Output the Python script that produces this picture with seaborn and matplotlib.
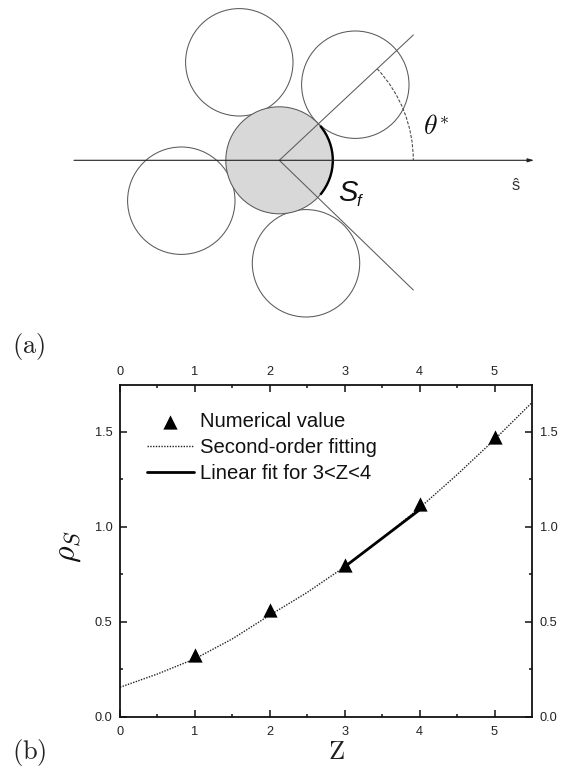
import numpy as np
import pandas as pd
import matplotlib
matplotlib.use("Agg")
import matplotlib.pyplot as plt
from matplotlib.patches import Circle, Arc
import seaborn as sns

# Panel (b) data
z_points = [1, 2, 3, 4, 5]
rho_points = [0.325, 0.56, 0.80, 1.12, 1.475]
z_curve = [0, 0.5, 1, 1.5, 2, 2.5, 3, 3.5, 4, 4.5, 5, 5.5]
rho_curve = [0.155, 0.225, 0.305, 0.41, 0.535, 0.655, 0.79, 0.94, 1.10, 1.275, 1.46, 1.655]
z_linear = [3, 4]
rho_linear = [0.79, 1.09]
series_labels = ["Numerical value", "Second-order fitting", "Linear fit for 3<Z<4"]
x_ticks = [0, 1, 2, 3, 4, 5]
y_ticks = [0.0, 0.5, 1.0, 1.5]

# Panel (a) schematic, in image pixels
center_circle = (279.3, 160.3, 53.5)
outer_x = [239.3, 355.3, 181.3, 306.0]
outer_y = [62.3, 84.7, 200.7, 263.3]
outer_r = [53.7, 53.7, 53.7, 53.7]
ray_ends_x = [413.3, 413.3]
ray_ends_y = [35.0, 290.0]
axis_x = [74, 534]

W, H = 563, 775
sns.set_theme(style="ticks")
plt.rcParams["font.family"] = ["Liberation Sans", "DejaVu Sans"]
plt.rcParams["mathtext.fontset"] = "cm"

fig = plt.figure(figsize=(W / 100, H / 100), dpi=100, facecolor="white")

bg = fig.add_axes([0, 0, 1, 1])
bg.set_xlim(0, W)
bg.set_ylim(H, 0)
bg.axis("off")
gc = "#5a5a5a"
for cx, cy, r in zip(outer_x, outer_y, outer_r):
    bg.add_patch(Circle((cx, cy), r, fc="none", ec=gc, lw=0.75))
cx, cy, r = center_circle
bg.add_patch(Circle((cx, cy), r, fc="#d8d8d8", ec=gc, lw=0.75))
for ex, ey in zip(ray_ends_x, ray_ends_y):
    bg.plot([cx, ex], [cy, ey], color=gc, lw=0.75)
bg.annotate("", xy=(axis_x[1], cy), xytext=(axis_x[0], cy),
            arrowprops=dict(arrowstyle="-|>,head_length=0.3,head_width=0.09",
                            color="#222222", lw=0.8, shrinkA=0, shrinkB=0))
bg.add_patch(Arc((cx, cy), 2 * r, 2 * r, theta1=-40, theta2=40, color="black", lw=1.7))
bg.add_patch(Arc((cx, cy), 268, 268, theta1=-43, theta2=0, color="#444444", lw=0.75, ls=(0, (3, 1.5))))
bg.text(423, 127, r"$\theta$", fontsize=20, ha="left", va="center", color="#111111")
bg.text(439, 119, r"$*$", fontsize=13, ha="left", va="center", color="#111111")
bg.text(338, 193, "S", fontsize=21, style="italic", ha="left", va="center", color="#111111")
bg.text(356, 202, "f", fontsize=12, style="italic", ha="left", va="center", color="#111111")
bg.text(516, 186, "ŝ", fontsize=12, ha="center", va="center", color="#333333")
bg.text(12, 346, r"$\mathrm{(a)}$", fontsize=19, ha="left", va="center", color="#222222")
bg.text(12, 752, r"$\mathrm{(b)}$", fontsize=19, ha="left", va="center", color="#222222")

L, R, T, B = 120, 532, 384.5, 716.7
ax = fig.add_axes([L / W, 1 - B / H, (R - L) / W, (B - T) / H], facecolor="none")
curve = pd.DataFrame({"z": z_curve, "rho": rho_curve})
linear = pd.DataFrame({"z": z_linear, "rho": rho_linear})
points = pd.DataFrame({"z": z_points, "rho": rho_points})
sns.scatterplot(data=points, x="z", y="rho", ax=ax, marker="^", s=105, color="black",
                linewidth=0, label=series_labels[0], zorder=4)
sns.lineplot(data=curve, x="z", y="rho", ax=ax, color="#222222", lw=1.0, ls=(0, (1, 1)),
             label=series_labels[1], zorder=2)
sns.lineplot(data=linear, x="z", y="rho", ax=ax, color="black", lw=2.0,
             label=series_labels[2], zorder=3)
ax.set_xlim(0, 5.5)
ax.set_ylim(0, 1.75)
ax.set_xticks(x_ticks)
ax.set_yticks(y_ticks)
ax.set_yticklabels([f"{v:.1f}" for v in y_ticks])
ax.set_xticks(np.arange(0.5, 5.5, 1), minor=True)
ax.set_yticks(np.arange(0.25, 1.75, 0.5), minor=True)
ax.tick_params(which="major", direction="in", length=5, width=1.1, labelsize=9.2,
               top=True, right=True, labelright=True, color="#111111", labelcolor="#222222")
ax.tick_params(axis="x", which="major", pad=7)
ax.tick_params(axis="y", which="major", pad=5.5)
ax.tick_params(which="minor", direction="in", length=2.5, width=1.1, top=True, right=True,
               color="#111111")
top = ax.secondary_xaxis("top")
top.set_xticks(x_ticks)
top.tick_params(direction="in", length=0, pad=4.5, labelsize=9.2, labelcolor="#222222")
top.spines["top"].set_visible(False)
for s in ax.spines.values():
    s.set_linewidth(1.3)
    s.set_color("#111111")
ax.set_xlabel("")
ax.set_ylabel("")
bg.text(336, 752, r"$\mathrm{Z}$", fontsize=19, ha="center", va="center", color="#222222")
bg.text(68, 547, r"$\rho_S$", fontsize=23, ha="center", va="center", rotation=90, color="#111111")
ax.legend(loc="upper left", bbox_to_anchor=(0.0655, 0.917), frameon=False, fontsize=14.6,
          handlelength=2.3, handletextpad=0.3, labelspacing=0.34, borderpad=0, borderaxespad=0,
          labelcolor="#111111")
fig.savefig("out.png", dpi=100)
